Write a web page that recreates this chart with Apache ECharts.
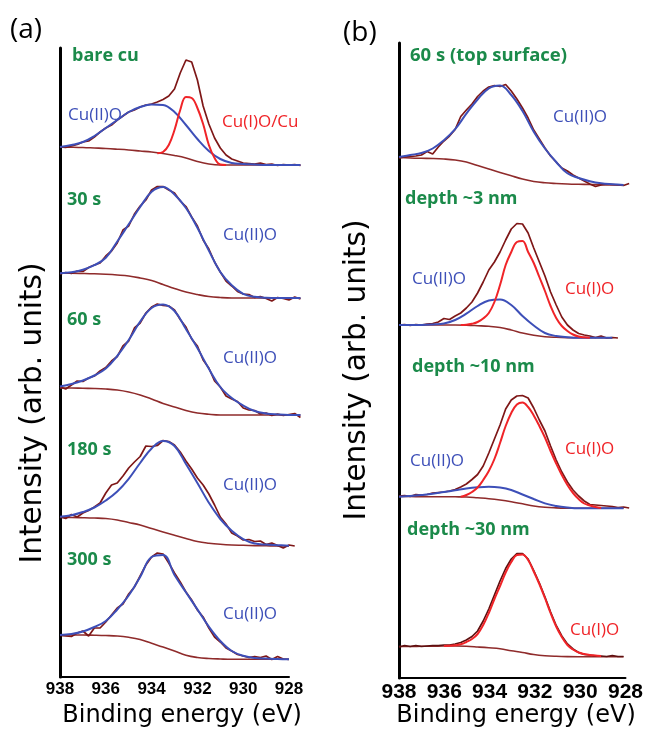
<!DOCTYPE html>
<html>
<head>
<meta charset="utf-8">
<script src="https://cdn.jsdelivr.net/npm/echarts@6/dist/echarts.min.js"></script>
<style>
html,body{margin:0;padding:0;background:#fff;}
#chart{width:646px;height:734px;}
</style>
</head>
<body>
<div id="chart"></div>
<script>
// ---------------- DATA (binding energy in eV, intensity in arb. units) ----------------
const TICKS = [938, 936, 934, 932, 930, 928];
const E_FIT = [938,937.5,937,936.5,936,935.5,935,934.5,934,933.5,933,932.5,932,931.5,931,930.5,930,929.5,929,928.5,928,927.5];
const E_RAW = [938,937.75,937.5,937.25,937,936.75,936.5,936.25,936,935.75,935.5,935.25,935,934.75,934.5,934.25,934,933.75,933.5,933.25,933,932.75,932.5,932.25,932,931.75,931.5,931.25,931,930.75,930.5,930.25,930,929.75,929.5,929.25,929,928.75,928.5,928.25,928,927.75,927.5];

// panel (a)
const A_LABELS = ['bare cu', '30 s', '60 s', '180 s', '300 s'];
const A1_RAW = [28,27.5,29,30.5,33,34,38,43,47,50,55,59,63,65,68,70,71,73,75.5,79,86,102,115,113,95,69,51,37,27,20,16,14,12,11.5,11,12,10.5,11,9.5,10.5,10,10.5,9.5];
const A1_CU2 = [28,30,33,39,47,55,63,68,70.5,70,63,50,36,24,16,12,11,10.5,10,10,10,10];
const A1_BG  = [28,27.8,27.5,27,26.5,25.8,25,24,23,21.5,19.5,17,13.5,11,10,10,10,10,10,10,10,10];
const A1_CU1_START = 17; // index in E_RAW (933.75 eV)
const A1_CU1 = [21.7,23,30,45,65,78,77,67,51,30,17,10.5,10];

const A2_RAW = [34,35.5,34.5,37,36.5,40.5,43,45,52,57,65,78,82,94,102,108,118,121.5,121.5,118,115,107,101.5,91,82,68,59,46,36,27,22,16.5,14,13.5,10.5,11.5,9.5,7,10.5,9.5,8,11,9];
const A2_CU2 = [34.7,35.7,38.3,42.8,50.2,66.5,83.7,101,116.2,121,113.5,100,80.2,57.4,36,22.7,14.2,11.2,10.2,10,10,10];
const A2_BG  = [34.7,34.7,34.5,34.2,33.7,33,32,30,27.5,23.5,19.5,16,13.5,11.5,10.5,10,10,10,10,10,10,10];

const A3_RAW = [38,36,40,44,43.5,47,49,54,57.5,64,68.5,79,84,97,102,112,118,121,119.5,119,115,105.5,98,86,79,65,57,44,38,29,26,23.5,17,15,14.5,11,12,9.5,11,9.5,10.5,11.5,7.5];
const A3_CU2 = [38.5,41,44.5,49.5,56.5,69,85,103.3,117,120.5,114,96,77,56.3,38,27,19.5,14,11.5,10.5,10,10];
const A3_BG  = [37,37,36.7,36.5,36,35,33,30,26,21.5,18,14.5,12,10.7,10,10,10,10,10,10,10,10];

const A4_RAW = [39.3,37.5,41.5,39,43,45.5,49,53,63,71,73,80,88,94,99.5,110,109.5,110.5,115.5,114.5,111,104,95,87,78,71,62,51,39,32,23,20,16,16.5,14.5,15,11.5,13,10.5,8,11,10,null];
const A4_CU2 = [39.3,40.8,44,48.5,55.5,64.5,77.2,93,107.5,115,110,92,73,53.3,37,25.2,16.9,12.5,11.4,10.8,10.3,null];
const A4_BG  = [38.5,38.5,38.3,38,37.5,36,33.5,31,27.5,24,20.7,17.5,14.5,12.8,11.7,11,10.7,10.4,10.2,10,10,null];

const A5_RAW = [33.5,33,32.5,36,38,33,41,41,47,54,61,65,75,82,93,104,112,116,115,106,96,87,77,69,59,52,41,32,27,21,18,14.5,13,11.5,12.5,11.5,13,9.5,12.5,10,9.5,null,null];
const A5_CU2 = [34,35,37.5,42,48,59.5,73.5,92,112,114,94,76.7,59.6,42.3,28,18,13.2,11,10.5,10,9.7,null];
const A5_BG  = [34,34,34,33.8,33.5,33,31.7,29.5,25.7,22,18,13.7,11.5,10.5,10,9.7,9.7,9.7,9.7,9.7,9.7,null];

// panel (b)
const B_LABELS = ['60 s (top surface)', 'depth ~3 nm', 'depth ~10 nm', 'depth ~30 nm'];
const B1_RAW = [37,38,38.5,39,40,43.5,41,48,54,59,65.5,78.5,85,91,98.5,104,108,109.5,108.5,110.5,104,96,87,77,65,56,47,39,33,27,24,20,17,14,11,8.5,10,11,10.5,10,9.5,11.5,null];
const B1_CU2 = [38,40,42,46.5,54.8,65.8,81.4,95.5,106.7,109.5,100,84,63.3,46.5,33,21.7,17,13.8,11.7,10.7,10,null];
const B1_BG  = [37.5,37,36.7,36.5,36,35,33,29.5,26,22.5,19.2,16,13.5,12.2,11.5,11,10.7,10.5,10.3,10,10,null];

const B2_RAW = [23,23.5,22.5,23.5,23,24,24.5,26,29.5,28.5,32,35,40,46,55,66,78,86,96,108,119,124.5,124,115,100,86,72,56,43,31,23,18,14.5,13,12,10.5,12,10,10.5,10,null,null,null];
const B2_CU2 = [23,23,23,23.5,24.5,28,34.3,42,47.5,48.5,43,32,22.5,15,12,10.8,10.3,10.3,10.3,10.3,null,null];
const B2_BG  = [23,23,23,23,23,23,22.8,22.3,21.7,20.5,18,15,12.7,11.3,10.7,10.4,10.3,10.3,10.3,10.3,null,null];
const B2_CU1_START = 11; // 935.25 eV
const B2_CU1 = [23,23.2,24.2,26,29.5,35,46,63,83,96,106,107,96,85,71,57,42,30,22,17,13.5,11.5,10.7,10.3];

const B3_RAW = [22,22.5,21.5,23.5,23,23.5,25,25.5,26,27,28.5,31,34,38.5,43.5,52,65,79,93,109,118,122,122.5,120,110,98,87,72,58,46,36,28,22,17,13.5,13,12.5,12,11.5,10.5,11,10,null];
const B3_CU2 = [21.3,22,23,24.2,26,27.7,29.5,30.7,31.3,30.5,28,23.5,19,14.6,12,10.5,9.7,9.7,9.7,9.7,9.7,null];
const B3_BG  = [21.5,21.5,21.3,21.3,21.3,21.2,21,20.2,19.3,18,16.3,14.2,12,10.7,10.1,9.8,9.7,9.7,9.7,9.7,9.7,null];
const B3_CU1_START = 11; // 935.25 eV
const B3_CU1 = [21.2,23,26,30.5,38,47,59,75,92,105,113.5,115.5,111,102.5,92,80.5,67,54.5,43,33,25,19,14.5,12.5,11,10];

const B4_RAW = [20,21.5,20.5,21.5,20.5,21,21.5,21.5,22,22,23,24.5,27,30.5,36,46,58,72,86,98.5,108,113.5,113.5,108,96.5,84,70,55,41.5,31,23,18,14.5,12.5,12,11,11,10.5,11.5,10.5,10.5,null,null];
const B4_BG  = [20.5,20.5,20.7,20.8,21,21,20.7,20,19.2,18.2,16.3,14.5,12.5,11.3,10.7,10.4,10.3,10.3,10.3,10.3,10.3,null];
const B4_CU1_START = 8; // 936 eV
const B4_CU1 = [21,21.2,21.7,22.7,25,28,33,42,54,68,81,94.5,105,112,112.5,107,95.5,83,69,54,40.5,30,22,17.5,14.5,13,12,11.5,11];

// ---------------- LAYOUT / STYLE ----------------
const C_RAW = '#7e1717', C_BLUE = '#3d4fb8', C_RED = '#f02428', C_BG = '#8f2b2b', C_GREEN = '#1b8a4a';
const FONT = '"Open Sans", "Noto Sans", sans-serif';
const FONT_TITLE = '"DejaVu Sans", "Open Sans", sans-serif';
const PANELS = [
  {left: 60, top: 48, bottom: 677, ppe: 22.9},
  {left: 399, top: 43, bottom: 678, ppe: 22.8}
];
const SPEC_H = 140;
// spectrum: panel index, baseline pixel (bottom of its own grid) and its curves
const SPECTRA = [
  {p:0, base:175, raw:A1_RAW, cu2:A1_CU2, bg:A1_BG, cu1:A1_CU1, cu1Start:A1_CU1_START},
  {p:0, base:308, raw:A2_RAW, cu2:A2_CU2, bg:A2_BG},
  {p:0, base:425, raw:A3_RAW, cu2:A3_CU2, bg:A3_BG},
  {p:0, base:556, raw:A4_RAW, cu2:A4_CU2, bg:A4_BG},
  {p:0, base:669, raw:A5_RAW, cu2:A5_CU2, bg:A5_BG},
  {p:1, base:195, raw:B1_RAW, cu2:B1_CU2, bg:B1_BG},
  {p:1, base:348, raw:B2_RAW, cu2:B2_CU2, bg:B2_BG, cu1:B2_CU1, cu1Start:B2_CU1_START},
  {p:1, base:518, raw:B3_RAW, cu2:B3_CU2, bg:B3_BG, cu1:B3_CU1, cu1Start:B3_CU1_START},
  {p:1, base:667, raw:B4_RAW, bg:B4_BG, cu1:B4_CU1, cu1Start:B4_CU1_START, rawColor:'#5e1010'}
];

const pairs = (xs, ys) => ys.map((y, i) => [xs[i], y]);
const pairsFrom = (xs, start, ys) => ys.map((y, i) => [xs[start + i], y]);

const grid = [], xAxis = [], yAxis = [], series = [];
// frame grids with the visible axes
PANELS.forEach((P, i) => {
  grid.push({left: P.left, top: P.top, width: P.ppe * 10, height: P.bottom - P.top});
  xAxis.push({
    type: 'value', gridIndex: i, min: 928, max: 938, interval: 2, inverse: true,
    axisLine: {show: true, onZero: false, lineStyle: {color: '#000', width: 2}},
    axisTick: {show: false}, splitLine: {show: false},
    axisLabel: {show: true, color: '#000', fontWeight: 'bold', fontFamily: '"Liberation Sans", Arial, sans-serif',
      fontSize: i === 0 ? 17 : 21, margin: 4, showMinLabel: true, showMaxLabel: true,
      customValues: TICKS}
  });
  yAxis.push({
    type: 'value', gridIndex: i, min: 0, max: 1,
    axisLine: {show: true, lineStyle: {color: '#000', width: 3}},
    axisTick: {show: false}, axisLabel: {show: false}, splitLine: {show: false}
  });
});
// one hidden grid per stacked spectrum
SPECTRA.forEach((S, k) => {
  const P = PANELS[S.p];
  const gi = grid.length;
  grid.push({left: P.left, top: S.base - SPEC_H, width: P.ppe * 11, height: SPEC_H});
  xAxis.push({type: 'value', gridIndex: gi, min: 927, max: 938, inverse: true, show: false});
  yAxis.push({type: 'value', gridIndex: gi, min: 0, max: SPEC_H, show: false});
  const common = {type: 'line', xAxisIndex: gi, yAxisIndex: gi, showSymbol: false, symbol: 'none',
    clip: false, silent: true, connectNulls: false};
  series.push(Object.assign({}, common, {name: 'background ' + k, data: pairs(E_FIT, S.bg), smooth: 0.4,
    lineStyle: {color: C_BG, width: 1.6}, z: 2}));
  series.push(Object.assign({}, common, {name: 'data ' + k, data: pairs(E_RAW, S.raw), smooth: false,
    lineStyle: {color: S.rawColor || C_RAW, width: 1.7}, z: 3}));
  if (S.cu2) series.push(Object.assign({}, common, {name: 'Cu(II)O ' + k, data: pairs(E_FIT, S.cu2), smooth: 0.4,
    lineStyle: {color: C_BLUE, width: 2}, z: 4}));
  if (S.cu1) series.push(Object.assign({}, common, {name: 'Cu(I)O ' + k, data: pairsFrom(E_RAW, S.cu1Start, S.cu1), smooth: 0.4,
    lineStyle: {color: C_RED, width: 2}, z: 5}));
});

// text labels
function txt(x, y, text, color, size, weight, align, rot, family) {
  return {type: 'text', x: x, y: y, rotation: rot || 0, z: 100,
    style: {text: text, fill: color, font: (weight || 'normal') + ' ' + size + 'px ' + (family || FONT),
      align: align || 'left', textAlign: align || 'left', verticalAlign: 'middle', textVerticalAlign: 'middle'}};
}
const graphic = [
  txt(10, 30, '(a)', '#000', 28),
  txt(343, 33, '(b)', '#000', 28),
  txt(72, 56, A_LABELS[0], C_GREEN, 18, 'bold'),
  txt(67, 200, A_LABELS[1], C_GREEN, 18, 'bold'),
  txt(67, 320, A_LABELS[2], C_GREEN, 18, 'bold'),
  txt(67, 450, A_LABELS[3], C_GREEN, 18, 'bold'),
  txt(67, 560, A_LABELS[4], C_GREEN, 18, 'bold'),
  txt(410, 56, B_LABELS[0], C_GREEN, 18.5, 'bold'),
  txt(405, 199, B_LABELS[1], C_GREEN, 18, 'bold'),
  txt(412, 367, B_LABELS[2], C_GREEN, 18, 'bold'),
  txt(407, 530, B_LABELS[3], C_GREEN, 18, 'bold'),
  txt(68, 115, 'Cu(II)O', C_BLUE, 17),
  txt(222, 122, 'Cu(I)O/Cu', C_RED, 17),
  txt(223, 235, 'Cu(II)O', C_BLUE, 17),
  txt(223, 358, 'Cu(II)O', C_BLUE, 17),
  txt(223, 485, 'Cu(II)O', C_BLUE, 17),
  txt(223, 614, 'Cu(II)O', C_BLUE, 17),
  txt(553, 117, 'Cu(II)O', C_BLUE, 17),
  txt(412, 279, 'Cu(II)O', C_BLUE, 17),
  txt(565, 289, 'Cu(I)O', C_RED, 17),
  txt(410, 461, 'Cu(II)O', C_BLUE, 17),
  txt(565, 449, 'Cu(I)O', C_RED, 17),
  txt(570, 630, 'Cu(I)O', C_RED, 17),
  txt(182, 716, 'Binding energy (eV)', '#000', 24, 'normal', 'center', 0, FONT_TITLE),
  txt(516, 716, 'Binding energy (eV)', '#000', 24, 'normal', 'center', 0, FONT_TITLE),
  txt(33, 413, 'Intensity (arb. units)', '#000', 29.5, 'normal', 'center', Math.PI / 2, FONT_TITLE),
  txt(357, 370, 'Intensity (arb. units)', '#000', 29.5, 'normal', 'center', Math.PI / 2, FONT_TITLE)
];

const chart = echarts.init(document.getElementById('chart'), null, {renderer: 'canvas'});
chart.setOption({animation: false, backgroundColor: '#fff', grid, xAxis, yAxis, series, graphic});
</script>
</body>
</html>
